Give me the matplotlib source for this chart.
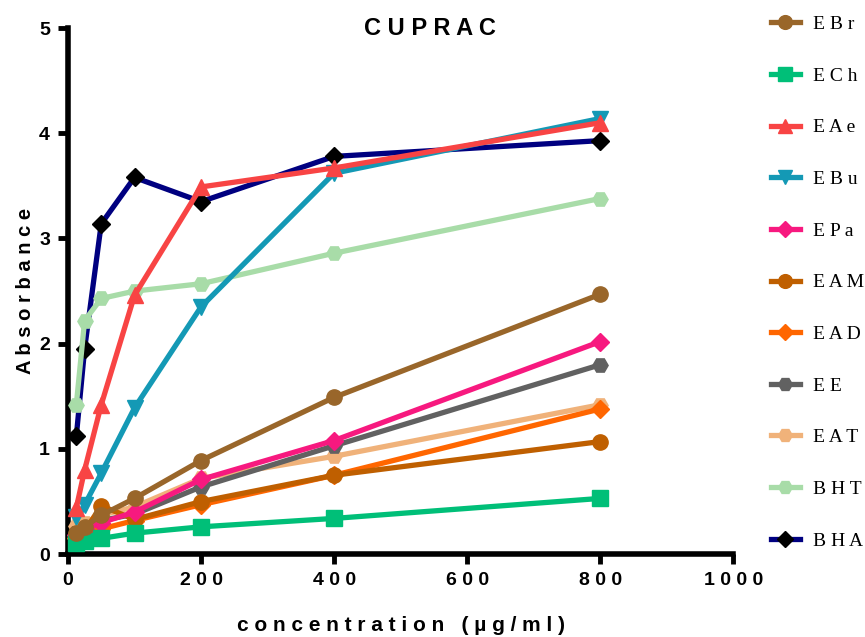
import matplotlib
matplotlib.use('Agg')  # backend sem GUI
import matplotlib.pyplot as plt

# concentrações (µg/ml)
conc = [12.5, 25, 50, 100, 200, 400, 800]

# absorbância por extrato / padrão
EBr = [0.20, 0.26, 0.37, 0.53, 0.89, 1.49, 2.47]
ECh = [0.11, 0.13, 0.15, 0.20, 0.26, 0.34, 0.53]
EAe = [0.44, 0.80, 1.42, 2.46, 3.49, 3.67, 4.10]
EBu = [0.35, 0.47, 0.77, 1.39, 2.35, 3.62, 4.14]
EPa = [0.18, 0.24, 0.30, 0.40, 0.71, 1.08, 2.02]
EAM = [0.18, 0.22, 0.46, 0.33, 0.50, 0.75, 1.07]
EAD = [0.15, 0.18, 0.24, 0.32, 0.47, 0.75, 1.38]
EE = [0.20, 0.25, 0.32, 0.38, 0.64, 1.03, 1.80]
EAT = [0.27, 0.30, 0.37, 0.45, 0.72, 0.93, 1.42]
BHT = [1.42, 2.22, 2.43, 2.50, 2.57, 2.86, 3.38]
BHA = [1.12, 1.95, 3.14, 3.58, 3.35, 3.78, 3.93]

series = [
    ("EBr", EBr, "#99662A", "o", "#99662A"),
    ("ECh", ECh, "#00BF78", "s", "#00BF78"),
    ("EAe", EAe, "#F84444", "^", "#F84444"),
    ("EBu", EBu, "#1499B5", "v", "#1499B5"),
    ("EPa", EPa, "#F7197F", "D", "#F7197F"),
    ("EAM", EAM, "#BF5F00", "o", "#BF5F00"),
    ("EAD", EAD, "#FF6600", "D", "#FF6600"),
    ("EE", EE, "#616161", "H", "#616161"),
    ("EAT", EAT, "#F0B27A", "H", "#F0B27A"),
    ("BHT", BHT, "#A8DCA8", "H", "#A8DCA8"),
    ("BHA", BHA, "#000080", "D", "#000000"),
]


def espacar(txt):
    # imita o espaçamento entre letras do original
    return " ".join(txt)


fig = plt.figure(figsize=(8.65, 6.37), dpi=100)
ax = fig.add_axes([0.0786, 0.130, 0.769, 0.826])

for i, (nome, vals, cor, mk, cor_mk) in enumerate(series):
    ms = 9 if mk == "D" else 11
    ax.plot(conc, vals, color=cor, marker=mk, markersize=ms,
            markerfacecolor=cor_mk, markeredgecolor=cor_mk,
            linewidth=3.8, label=espacar(nome), zorder=20 - i, clip_on=False)

ax.set_xlim(0, 1000)
ax.set_ylim(0, 5)
ax.set_xticks([0, 200, 400, 600, 800, 1000])
ax.set_yticks([0, 1, 2, 3, 4, 5])

for s in ["top", "right"]:
    ax.spines[s].set_visible(False)
for s in ["left", "bottom"]:
    ax.spines[s].set_linewidth(4)
ax.tick_params(axis="both", direction="out", length=7, width=3.5,
               labelsize=15, pad=6)
ax.set_xticklabels(["0", "2 0 0", "4 0 0", "6 0 0", "8 0 0", "1 0 0 0"])
for lab in ax.get_xticklabels() + ax.get_yticklabels():
    lab.set_fontweight("bold")
    lab.set_family("Liberation Sans")
    lab.set_fontsize(14)

ax.set_xlabel("c o n c e n t r a t i o n   ( µ g / m l )", fontsize=15,
              fontweight="bold", family="Liberation Sans", labelpad=19)
ax.set_ylabel(espacar("Absorbance"), fontsize=14.5, fontweight="bold",
              family="Liberation Sans", labelpad=3)
fig.text(0.497, 0.955, espacar("CUPRAC"), fontsize=17, fontweight="bold",
         family="Liberation Sans", ha="center", va="center")

leg = ax.legend(loc="upper left", bbox_to_anchor=(1.03, 1.057), frameon=False,
                prop={"family": "Liberation Serif", "size": 14},
                labelspacing=1.75, handlelength=1.5, handletextpad=0.7,
                markerscale=0.9)

fig.savefig("out.png", dpi=100)
